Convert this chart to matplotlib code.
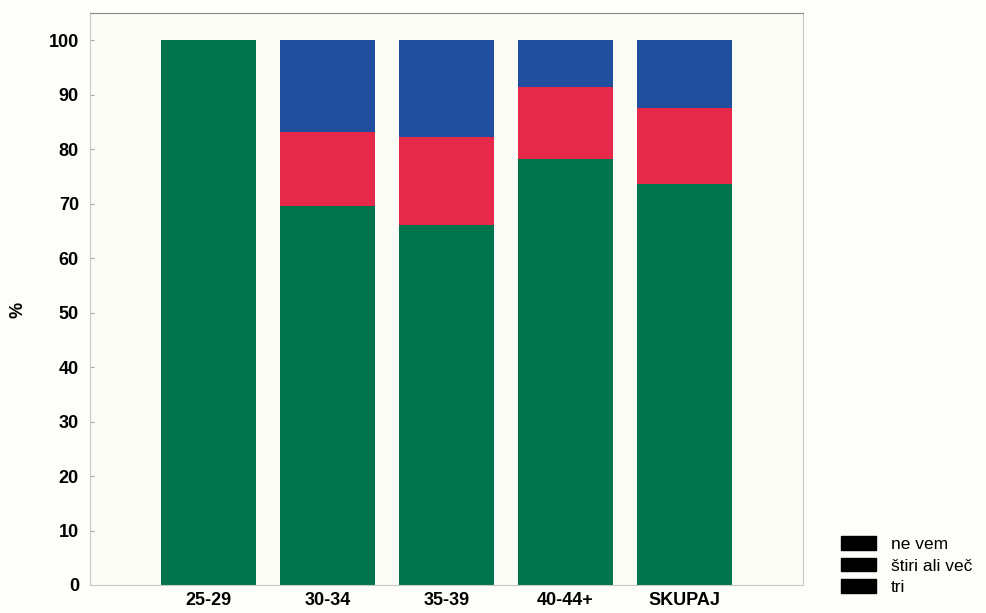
import numpy as np
import matplotlib.pyplot as plt
from matplotlib.patches import Patch

categories = ['25-29', '30-34', '35-39', '40-44+', 'SKUPAJ']
tri = [100.0, 69.5, 66.1, 78.2, 73.6]
stiri = [0.0, 13.7, 16.2, 13.2, 13.9]
ne_vem = [0.0, 16.8, 17.7, 8.6, 12.5]
labels = ['tri', 'štiri ali več', 'ne vem']
colors = ['#00744c', '#e6284a', '#1f4f9e']

plt.rcParams['font.family'] = ['Liberation Sans', 'DejaVu Sans']

fig = plt.figure(figsize=(9.87, 6.13), dpi=100)
fig.patch.set_facecolor('#fdfdfa')
ax = fig.add_axes([0.0912, 0.0457, 0.7224, 0.9331])
ax.set_facecolor('#fcfcf7')

x = np.arange(len(categories))
bottom = np.zeros(len(categories))
for vals, lab, col in zip([tri, stiri, ne_vem], labels, colors):
    ax.bar(x, vals, width=0.8, bottom=bottom, color=col, label=lab)
    bottom += np.array(vals)

ax.set_xlim(-1, 5)
ax.set_ylim(0, 105)
ax.set_yticks(range(0, 101, 10))
ax.set_xticks(x)
ax.set_xticklabels(categories, fontsize=13, fontweight='bold')
for t in ax.get_yticklabels():
    t.set_fontsize(13)
    t.set_fontweight('bold')
ax.tick_params(axis='x', length=0, pad=5)
ax.tick_params(axis='y', direction='in', length=3, color='#aaaaaa', pad=8)
for s in ax.spines.values():
    s.set_color('#c8c8c8')
    s.set_linewidth(0.8)
ax.spines['top'].set_color('#888888')

fig.text(0.018, 0.495, '%', rotation=90, fontsize=13, fontweight='bold',
         ha='center', va='center')

handles = [Patch(facecolor='black', edgecolor='black', label=l) for l in labels[::-1]]
fig.legend(handles=handles, loc='lower left', bbox_to_anchor=(0.840, 0.01),
           frameon=False, fontsize=12.5, handlelength=2.0, handleheight=0.85,
           handletextpad=0.85, labelspacing=0.3, borderpad=0.2)

fig.savefig('out.png', dpi=100, facecolor=fig.get_facecolor())
